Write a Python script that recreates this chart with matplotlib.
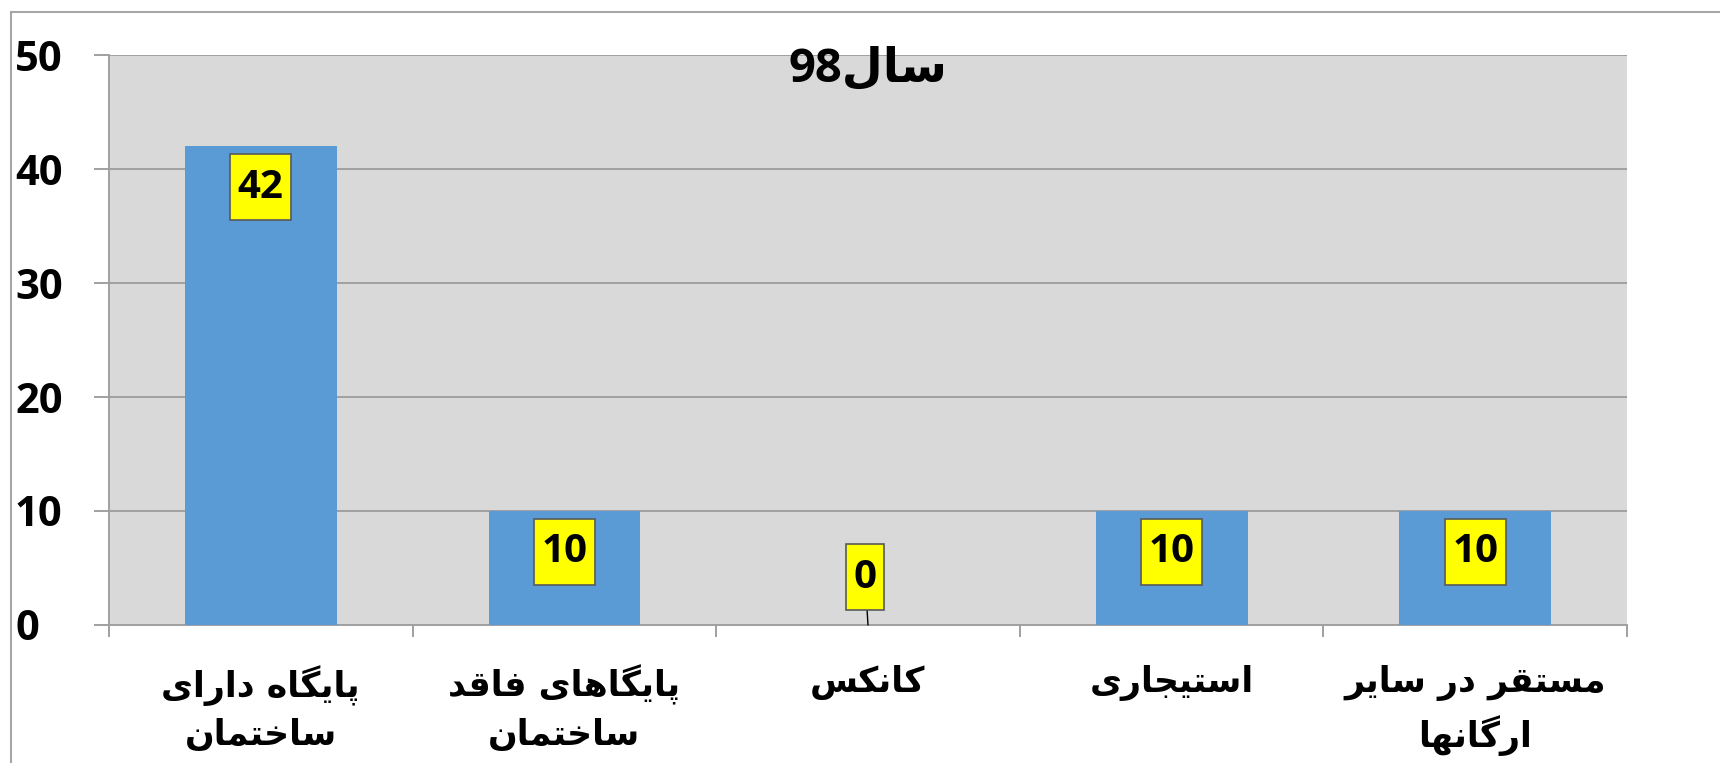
import re
import matplotlib
matplotlib.use("Agg")
import matplotlib.pyplot as plt
from matplotlib.patches import Rectangle
from matplotlib.path import Path
import numpy as np

# ---------------- data ----------------
categories = ["پایگاه دارای\nساختمان", "پایگاهای فاقد\nساختمان", "کانکس",
              "استیجاری", "مستقر در سایر\nارگانها"]
values = [42, 10, 0, 10, 10]
title = "سال98"
yticks = [0, 10, 20, 30, 40, 50]

# ---------------- minimal Arabic/Persian shaping ----------------
# letter: (isolated, final, initial, medial); None initial => right-joining only
FORMS = {
    'ا': (0xFE8D, 0xFE8E, None, None),
    'ب': (0xFE8F, 0xFE90, 0xFE91, 0xFE92),
    'ت': (0xFE95, 0xFE96, 0xFE97, 0xFE98),
    'ج': (0xFE9D, 0xFE9E, 0xFE9F, 0xFEA0),
    'خ': (0xFEA5, 0xFEA6, 0xFEA7, 0xFEA8),
    'د': (0xFEA9, 0xFEAA, None, None),
    'ر': (0xFEAD, 0xFEAE, None, None),
    'ز': (0xFEAF, 0xFEB0, None, None),
    'س': (0xFEB1, 0xFEB2, 0xFEB3, 0xFEB4),
    'ف': (0xFED1, 0xFED2, 0xFED3, 0xFED4),
    'ق': (0xFED5, 0xFED6, 0xFED7, 0xFED8),
    'ل': (0xFEDD, 0xFEDE, 0xFEDF, 0xFEE0),
    'م': (0xFEE1, 0xFEE2, 0xFEE3, 0xFEE4),
    'ن': (0xFEE5, 0xFEE6, 0xFEE7, 0xFEE8),
    'ه': (0xFEE9, 0xFEEA, 0xFEEB, 0xFEEC),
    'و': (0xFEED, 0xFEEE, None, None),
    'ی': (0xFBFC, 0xFBFD, 0xFBFE, 0xFBFF),
    'پ': (0xFB56, 0xFB57, 0xFB58, 0xFB59),
    'گ': (0xFB92, 0xFB93, 0xFB94, 0xFB95),
    'ک': (0xFB8E, 0xFB8F, 0xFB90, 0xFB91),
}


def shape(s):
    out = []
    for i, c in enumerate(s):
        if c not in FORMS:
            out.append(c)
            continue
        prev = s[i - 1] if i > 0 else None
        nxt = s[i + 1] if i + 1 < len(s) else None
        jp = prev in FORMS and FORMS[prev][2] is not None
        jn = nxt in FORMS and FORMS[c][2] is not None
        iso, fin, ini, med = FORMS[c]
        if jp and jn:
            f = med
        elif jp:
            f = fin
        elif jn:
            f = ini
        else:
            f = iso
        out.append(chr(f))
    return ''.join(out)


def rtl(s):
    lines = []
    for line in s.split("\n"):
        rev = shape(line)[::-1]
        rev = re.sub(r'[0-9]+', lambda m: m.group(0)[::-1], rev)
        lines.append(rev)
    return "\n".join(lines)


def label_box(x0, y0, width, height, mutation_size):
    """Rectangle with more vertical than horizontal padding."""
    padx = 0.19 * mutation_size
    pady = 0.33 * mutation_size
    x0, y0 = x0 - padx, y0 - pady
    x1, y1 = x0 + width + 2 * padx, y0 + height + 2 * pady
    return Path([(x0, y0), (x1, y0), (x1, y1), (x0, y1), (x0, y0)],
                closed=True)


# ---------------- figure ----------------
W, H, DPI = 1720, 763, 100
fig = plt.figure(figsize=(W / DPI, H / DPI), dpi=DPI)
px = 72.0 / DPI  # points per pixel

# outer chart frame
fig.patches.append(Rectangle((11 / W, -0.05), 1.2, 1 - 12 / H + 0.05,
                             transform=fig.transFigure, fill=False,
                             edgecolor="#A6A6A6", linewidth=1.5))

ax = fig.add_axes([109 / W, 1 - 625 / H, (1627 - 109) / W, (625 - 55) / H])
ax.set_facecolor("#D9D9D9")

x = np.arange(len(categories))
bars = ax.bar(x, values, width=0.5, color="#5B9BD5", zorder=3)

ax.set_xlim(-0.5, len(categories) - 0.5)
ax.set_ylim(0, 50)
ax.set_yticks(yticks)
ax.yaxis.grid(True, color="#A0A0A0", linewidth=1.4, zorder=1)
ax.set_axisbelow(True)

for s in ["top", "right"]:
    ax.spines[s].set_visible(False)
for s in ["left", "bottom"]:
    ax.spines[s].set_color("#A0A0A0")
    ax.spines[s].set_linewidth(1.4)

num_font = ["Open Sans", "DejaVu Sans"]
ax.tick_params(axis="y", direction="out", length=15 * px, width=1.4,
               color="#A0A0A0", pad=79 * px, labelsize=30)
for lab in ax.get_yticklabels():
    lab.set_horizontalalignment("left")
    lab.set_family(num_font)
    lab.set_fontweight("bold")

ax.set_xticks(x)
ax.set_xticklabels([rtl(c) for c in categories], fontsize=25,
                   fontweight="bold", family="DejaVu Sans", linespacing=1.45,
                   va="top")
ax.tick_params(axis="x", length=0, pad=40 * px)
ax.set_xticks(np.arange(len(categories) + 1) - 0.5, minor=True)
ax.tick_params(axis="x", which="minor", direction="out", length=12 * px,
               width=1.4, color="#A0A0A0")

# data labels
lab_kw = dict(textcoords="offset points", ha="center", va="center",
              fontsize=29, fontweight="bold", family=num_font, zorder=5,
              bbox=dict(boxstyle=label_box, facecolor="#FFFF00",
                        edgecolor="#595959", linewidth=1.2))
for xi, v in zip(x, values):
    if v > 0:
        ax.annotate(str(v), xy=(xi, v), xytext=(0, -41 * px), **lab_kw)
    else:
        ax.annotate(str(v), xy=(xi, v), xytext=(-3 * px, 48 * px),
                    arrowprops=dict(arrowstyle="-", color="black", lw=1.0,
                                    shrinkA=0, shrinkB=0), **lab_kw)

ax.text(0.5, 1 + 9 / 570, rtl(title), transform=ax.transAxes, ha="center",
        va="top", fontsize=34, fontweight="bold", family=num_font, zorder=6)

fig.savefig("out.png", dpi=DPI)
